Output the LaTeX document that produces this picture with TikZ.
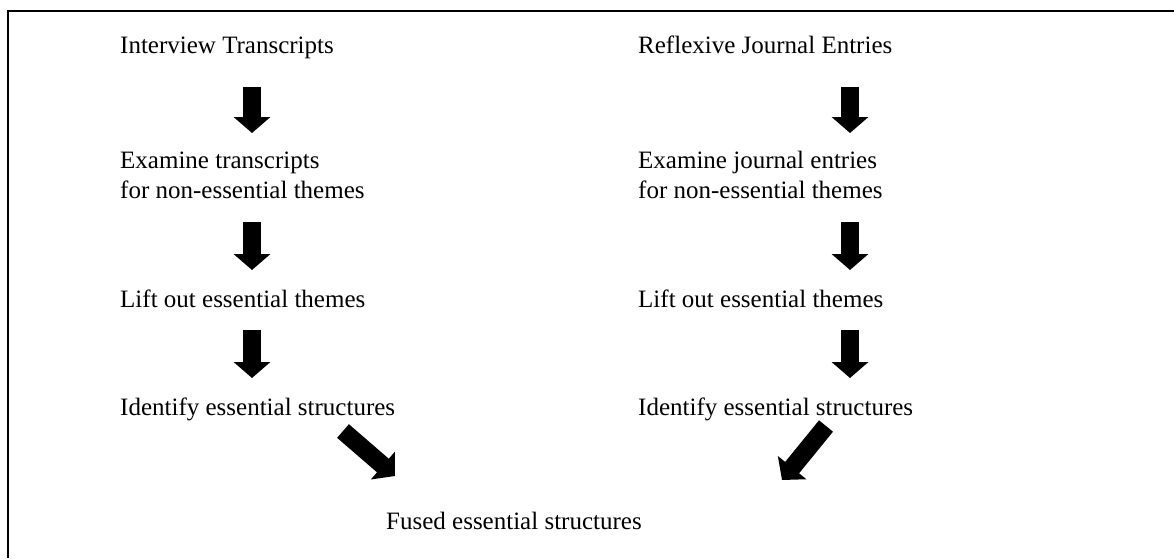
\documentclass[tikz,border=0pt]{standalone}
\usepackage{fontspec}
\setmainfont{Liberation Serif}
\usetikzlibrary{arrows.meta}
\begin{document}
\begin{tikzpicture}[x=1pt,y=-1pt,
  steptext/.style={anchor=base west, inner sep=0pt, align=left,
    font=\fontsize{25}{29.5}\selectfont},
  blockarrow/.style={line width=18pt, draw=black,
    -{Triangle[width=36pt,length=16pt]}}]
\useasboundingbox (0,0) rectangle (1174,558);
% frame (left and top edges)
\draw[line width=2pt] (8,558) -- (8,11) -- (1174,11);

% left column: interview data
\node[steptext] (lt1) at (120,53.5) {Interview Transcripts};
\node[steptext] (lt2) at (120,198) {Examine transcripts\\for non-essential themes};
\node[steptext] (lt3) at (120,307) {Lift out essential themes};
\node[steptext] (lt4) at (120,415) {Identify essential structures};

% right column: journal data
\node[steptext] (rt1) at (638,53.5) {Reflexive Journal Entries};
\node[steptext] (rt2) at (638,198) {Examine journal entries\\for non-essential themes};
\node[steptext] (rt3) at (638,307) {Lift out essential themes};
\node[steptext] (rt4) at (638,415) {Identify essential structures};

% merged result
\node[steptext] (fused) at (386,529) {Fused essential structures};

% arrow end points
\coordinate (la1s) at (252,87);  \coordinate (la1e) at (252,133);
\coordinate (la2s) at (252,222); \coordinate (la2e) at (252,270);
\coordinate (la3s) at (252,330); \coordinate (la3e) at (252,378);
\coordinate (ra1s) at (850,87);  \coordinate (ra1e) at (850,133);
\coordinate (ra2s) at (850,222); \coordinate (ra2e) at (850,270);
\coordinate (ra3s) at (850,330); \coordinate (ra3e) at (850,378);
\coordinate (lds) at (343,431);  \coordinate (lde) at (395,476);
\coordinate (rds) at (826,426);  \coordinate (rde) at (782,480);

\draw[blockarrow] (la1s) -- (la1e);
\draw[blockarrow] (la2s) -- (la2e);
\draw[blockarrow] (la3s) -- (la3e);
\draw[blockarrow] (ra1s) -- (ra1e);
\draw[blockarrow] (ra2s) -- (ra2e);
\draw[blockarrow] (ra3s) -- (ra3e);
\draw[blockarrow] (lds) -- (lde);
\draw[blockarrow] (rds) -- (rde);
\end{tikzpicture}
\end{document}
